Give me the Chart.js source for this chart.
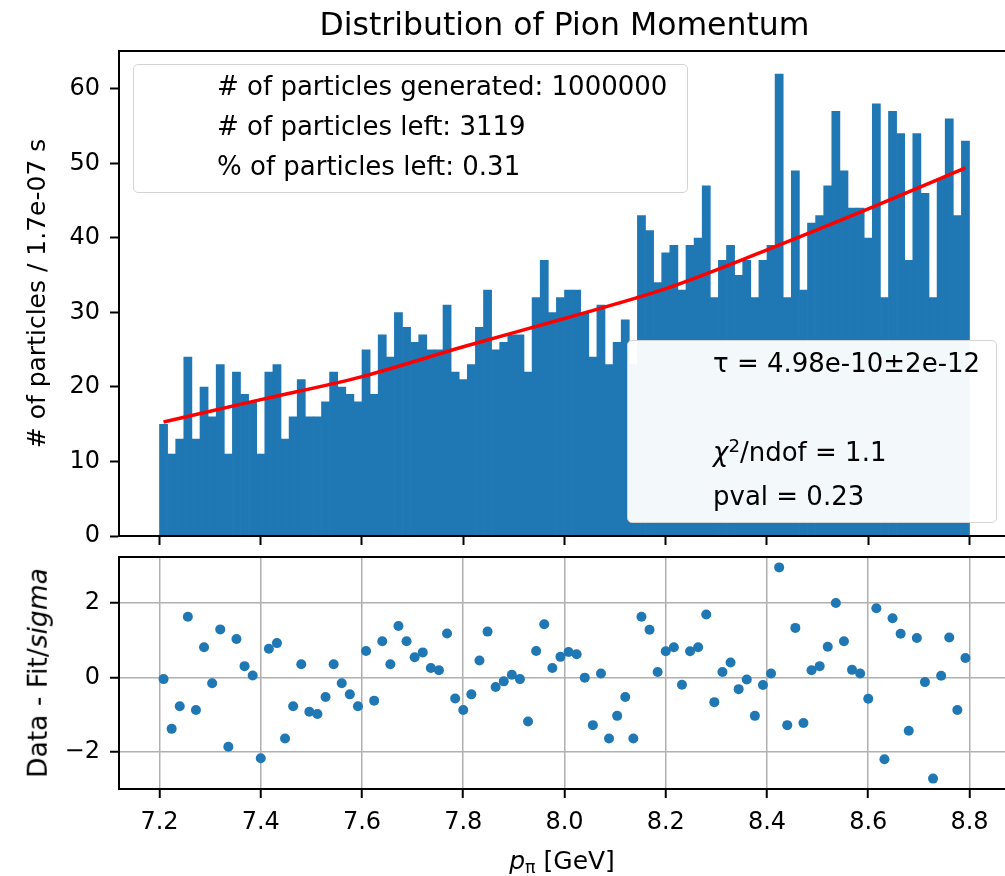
<!DOCTYPE html>
<html>
<head>
<meta charset="utf-8">
<script src="https://cdn.jsdelivr.net/npm/chart.js@4.4.1/dist/chart.umd.min.js"></script>
<style>
  html, body { margin: 0; padding: 0; background: #fff; overflow: hidden; }
  body { width: 1005px; height: 876px; position: relative; font-family: 'DejaVu Sans', sans-serif; color: #000; }
  canvas { position: absolute; left: 0; }
  #top { top: 0; }
  #bottom { top: 540px; }
  .title { position: absolute; left: 0; width: 1129px; top: 4px; text-align: center; font-size: 31.5px; line-height: 40px; white-space: nowrap; }
  .legend { position: absolute; box-sizing: border-box; border: 1px solid #d4d4d4; border-radius: 5px;
            background: rgba(255,255,255,0.95); font-size: 26px; white-space: nowrap; }
  #leg1 { left: 133px; top: 64px; width: 555px; height: 129px; padding: 1px 0 0 83px; line-height: 40px; }
  #leg2 { left: 627px; top: 340px; width: 370px; height: 183px; padding: 0 0 0 85px; line-height: 44.3px; }
  .ylab { position: absolute; transform: translate(-50%, -50%) rotate(-90deg); font-size: 26.5px; line-height: 1; white-space: nowrap; }
  .xlab { position: absolute; transform: translate(-50%, -50%); font-size: 25px; line-height: 1; white-space: nowrap; }
  sub { font-size: 0.7em; vertical-align: -0.25em; line-height: 0; }
  sup { font-size: 0.7em; vertical-align: 0.5em; line-height: 0; }
</style>
</head>
<body>
<canvas id="top" width="1015" height="560"></canvas>
<canvas id="bottom" width="1015" height="336"></canvas>
<div class="title">Distribution of Pion Momentum</div>
<div class="legend" id="leg1">
  <div># of particles generated: 1000000</div>
  <div># of particles left: 3119</div>
  <div>% of particles left: 0.31</div>
</div>
<div class="legend" id="leg2">
  <div>τ = 4.98e-10±2e-12</div>
  <div>&nbsp;</div>
  <div><i>χ</i><sup>2</sup>/ndof = 1.1</div>
  <div>pval = 0.23</div>
</div>
<div class="ylab" style="left:38px; top:673px;">Data - Fit/<i>sigma</i></div>
<div class="xlab" style="left:562px; top:860px;"><i>p</i><sub>π</sub> [GeV]</div>
<script>
// histogram binning
const BIN_START = 7.2;
const BIN_WIDTH = 0.016;

// counts per bin
const COUNTS = [15, 11, 13, 24, 13, 20, 16, 23, 11, 22,
  19, 18, 11, 22, 23, 13, 16, 21, 16, 16,
  18, 22, 20, 19, 18, 25, 19, 27, 24, 30,
  28, 26, 27, 25, 25, 31, 22, 21, 23, 28,
  33, 25, 26, 27, 27, 22, 32, 37, 30, 32,
  33, 33, 30, 24, 31, 23, 26, 29, 23, 43,
  41, 34, 38, 39, 33, 39, 40, 47, 32, 37,
  39, 35, 37, 32, 37, 39, 62, 32, 49, 33,
  42, 43, 47, 57, 49, 44, 44, 40, 58, 32,
  57, 54, 37, 54, 46, 32, 48, 56, 43, 53];

// (data - fit) / sigma per bin
const RESIDUALS = [-0.05, -1.39, -0.78, 1.63, -0.88, 0.81, -0.16, 1.29, -1.87, 1.03,
  0.30, 0.05, -2.18, 0.77, 0.92, -1.65, -0.78, 0.35, -0.93, -0.99,
  -0.53, 0.35, -0.16, -0.46, -0.78, 0.71, -0.63, 0.97, 0.35, 1.38,
  0.97, 0.54, 0.67, 0.25, 0.19, 1.18, -0.57, -0.88, -0.46, 0.45,
  1.23, -0.26, -0.11, 0.07, -0.05, -1.19, 0.71, 1.43, 0.25, 0.55,
  0.68, 0.62, -0.01, -1.29, 0.10, -1.65, -1.04, -0.53, -1.65, 1.63,
  1.28, 0.14, 0.70, 0.81, -0.20, 0.70, 0.81, 1.69, -0.67, 0.14,
  0.40, -0.32, -0.06, -1.04, -0.21, 0.10, 2.96, -1.29, 1.33, -1.23,
  0.19, 0.30, 0.82, 2.00, 0.97, 0.20, 0.10, -0.58, 1.86, -2.21,
  1.59, 1.17, -1.44, 1.06, -0.13, -2.73, 0.04, 1.07, -0.88, 0.52];

// fitted curve
const FIT_P = [7.208, 7.4, 7.6, 7.8, 8.0, 8.2, 8.4, 8.6, 8.792];
const FIT_N = [15.3, 18.3, 21.4, 25.4, 29.2, 33.2, 38.4, 43.9, 49.4];

const centers = COUNTS.map((_, i) => BIN_START + BIN_WIDTH * (i + 0.5));
const BLUE = '#1f77b4';

Chart.defaults.font.family = "'DejaVu Sans', sans-serif";
Chart.defaults.color = '#000';

const frame = {
  id: 'frame',
  afterDatasetsDraw(chart) {
    const { ctx, chartArea: a } = chart;
    ctx.save();
    ctx.strokeStyle = '#000';
    ctx.lineWidth = 2;
    ctx.strokeRect(a.left, a.top, a.right - a.left, a.bottom - a.top);
    ctx.restore();
  }
};

// fixed axis box sizes so both panels line up
const fixWidth = s => { s.width = 119; s.paddingTop = 0; s.paddingBottom = 0; };

const tickGrid = { drawOnChartArea: false, tickLength: 9, tickColor: '#000', tickWidth: 2 };
const border = { display: true, color: '#000', width: 2 };

new Chart(document.getElementById('top'), {
  type: 'bar',
  data: {
    datasets: [{
      type: 'line',
      data: FIT_P.map((p, i) => ({ x: p, y: FIT_N[i] })),
      borderColor: '#ff0000',
      borderWidth: 3.5,
      pointRadius: 0,
      cubicInterpolationMode: 'monotone',
      order: 0
    }, {
      type: 'bar',
      data: centers.map((c, i) => ({ x: c, y: COUNTS[i] })),
      backgroundColor: BLUE,
      borderWidth: 0,
      barPercentage: 1,
      categoryPercentage: 1,
      order: 1
    }]
  },
  options: {
    responsive: false,
    animation: false,
    devicePixelRatio: 1,
    events: [],
    layout: { autoPadding: false, padding: { top: 51, left: 0, right: 5, bottom: 0 } },
    plugins: { legend: { display: false }, tooltip: { enabled: false } },
    scales: {
      x: {
        type: 'linear', min: 7.12, max: 8.88, offset: false,
        grid: Object.assign({ offset: false }, tickGrid),
        border: border,
        ticks: { display: false, stepSize: 0.2, includeBounds: false, autoSkip: false },
        afterFit: s => { s.height = 24; }
      },
      y: {
        min: 0, max: 65.1,
        grid: tickGrid,
        border: border,
        ticks: { stepSize: 10, includeBounds: false, padding: 10, font: { size: 24 } },
        title: { display: true, text: '# of particles / 1.7e-07 s', font: { size: 25 }, padding: { top: 23, bottom: 0 } },
        afterFit: fixWidth
      }
    }
  },
  plugins: [frame]
});

new Chart(document.getElementById('bottom'), {
  type: 'scatter',
  data: {
    datasets: [{
      data: centers.map((c, i) => ({ x: c, y: RESIDUALS[i] })),
      backgroundColor: BLUE,
      borderWidth: 0,
      pointRadius: 5
    }]
  },
  options: {
    responsive: false,
    animation: false,
    devicePixelRatio: 1,
    events: [],
    layout: { autoPadding: false, padding: { top: 17, left: 0, right: 5, bottom: 0 } },
    plugins: { legend: { display: false }, tooltip: { enabled: false } },
    scales: {
      x: {
        type: 'linear', min: 7.12, max: 8.88,
        grid: { color: '#b0b0b0', lineWidth: 1.5, tickLength: 9, tickColor: '#000', tickWidth: 2 },
        border: border,
        ticks: { stepSize: 0.2, includeBounds: false, autoSkip: false, maxRotation: 0, padding: 10,
                 font: { size: 24 }, callback: v => v.toFixed(1) },
        afterFit: s => { s.height = 87; }
      },
      y: {
        min: -3.01, max: 3.24,
        grid: { color: '#b0b0b0', lineWidth: 1.5, tickLength: 9, tickColor: '#000', tickWidth: 2 },
        border: border,
        ticks: { stepSize: 2, includeBounds: false, padding: 10, font: { size: 24 },
                 callback: v => String(v).replace('-', '\u2212') },
        afterFit: fixWidth
      }
    }
  },
  plugins: [frame]
});
</script>
</body>
</html>
